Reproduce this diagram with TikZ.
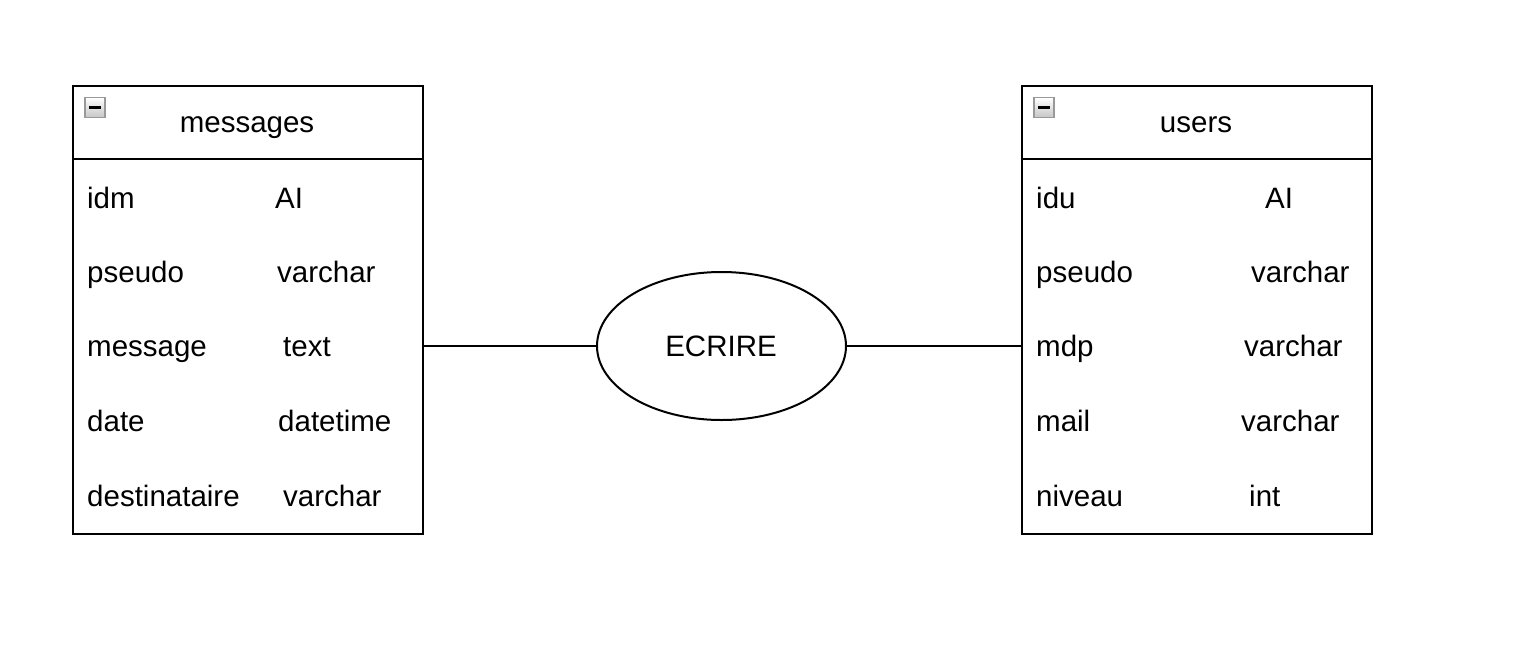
\documentclass[tikz,border=0pt]{standalone}
\usepackage{fontspec}
\setmainfont{Liberation Sans}
\usetikzlibrary{shapes.geometric}
\begin{document}
\begin{tikzpicture}[x=1pt,y=-1pt,
  tbl/.style={draw=black, line width=2pt, minimum width=350pt, minimum height=448pt, inner sep=0pt, anchor=north west},
  txt/.style={anchor=base west, inner sep=0pt, font=\fontsize{29.5}{32}\selectfont},
  hdr/.style={anchor=base, inner sep=0pt, font=\fontsize{29.5}{32}\selectfont},
  icon/.style={draw=gray!80, line width=1.2pt, top color=white, bottom color=gray!45, minimum width=20pt, minimum height=20pt, inner sep=0pt},
  conn/.style={line width=2pt}]
\useasboundingbox (0,0) rectangle (1520,645);
% tables
\node[tbl] (msg) at (72,85) {};
\node[tbl] (usr) at (1021,85) {};
\draw[line width=2pt] (72,159) coordinate (mh1) -- (422,159) coordinate (mh2);
\draw[line width=2pt] (1021,159) coordinate (uh1) -- (1371,159) coordinate (uh2);
% icons
\node[icon] (mi) at (95,107.5) {};
\draw[line width=2.5pt] ([xshift=-6pt]mi.center) -- ([xshift=6pt]mi.center);
\node[icon] (ui) at (1044,107.5) {};
\draw[line width=2.5pt] ([xshift=-6pt]ui.center) -- ([xshift=6pt]ui.center);
% headers
\node[hdr] (mt) at (247,132) {messages};
\node[hdr] (ut) at (1196,132) {users};
% messages rows
\node[txt] (m1) at (87,208.5) {idm};
\node[txt] (m1t) at (275,208.5) {AI};
\node[txt] (m2) at (87,282.5) {pseudo};
\node[txt] (m2t) at (277,282.5) {varchar};
\node[txt] (m3) at (87,356.5) {message};
\node[txt] (m3t) at (283,356.5) {text};
\node[txt] (m4) at (87,431.5) {date};
\node[txt] (m4t) at (278,431.5) {datetime};
\node[txt] (m5) at (87,506.5) {destinataire};
\node[txt] (m5t) at (283,506.5) {varchar};
% users rows
\node[txt] (u1) at (1036,208.5) {idu};
\node[txt] (u1t) at (1265,208.5) {AI};
\node[txt] (u2) at (1036,282.5) {pseudo};
\node[txt] (u2t) at (1251,282.5) {varchar};
\node[txt] (u3) at (1036,356.5) {mdp};
\node[txt] (u3t) at (1244,356.5) {varchar};
\node[txt] (u4) at (1036,431.5) {mail};
\node[txt] (u4t) at (1241,431.5) {varchar};
\node[txt] (u5) at (1036,506.5) {niveau};
\node[txt] (u5t) at (1249,506.5) {int};
% relation
\node[ellipse, draw=black, line width=2pt, minimum width=249pt, minimum height=148pt, inner sep=0pt] (ecr) at (721.5,346) {};
\node[hdr] (et) at (721,356.5) {ECRIRE};
\draw[conn] (ecr.west) -- (ecr.west -| msg.east);
\draw[conn] (ecr.east) -- (ecr.east -| usr.west);
\end{tikzpicture}
\end{document}
